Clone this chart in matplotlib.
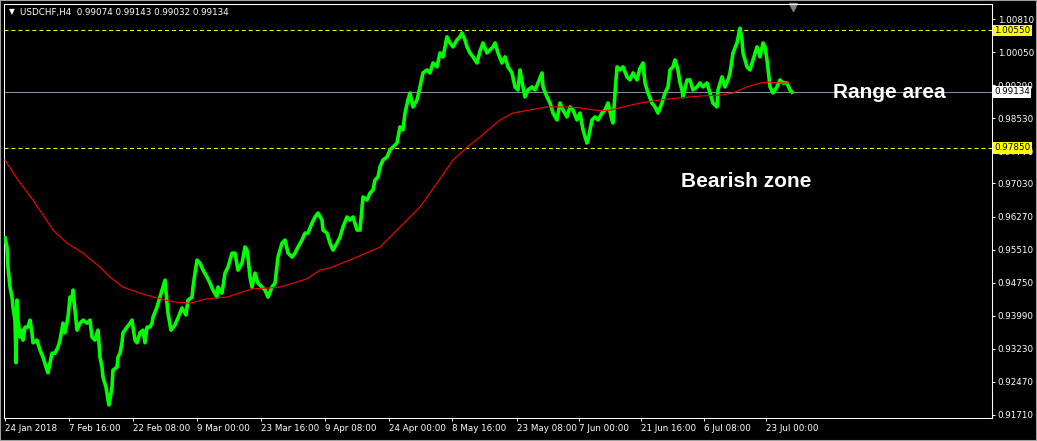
import matplotlib.pyplot as plt
import matplotlib.transforms as mtransforms
from matplotlib.patches import Rectangle

# H4 bar index (0 = 24 Jan 2018) and traced close prices
price_bar = [
    0, 2, 3, 5, 7, 8, 10, 11, 12, 13, 15, 17, 18, 20, 23, 25, 27, 28, 32, 35,
    38, 42, 43, 45, 47, 50, 53, 55, 58, 60, 63, 65, 67, 68, 70, 72, 75, 78, 82, 85,
    87, 90, 92, 93, 95, 97, 98, 101, 103, 104, 107, 108, 112, 113, 115, 117, 118, 122, 125, 127,
    128, 130, 132, 135, 138, 140, 142, 145, 147, 148, 152, 155, 158, 160, 162, 163,
    166, 170, 173, 177, 181, 183, 187, 188, 190, 192, 195, 198, 202, 205, 208, 212, 213, 217, 220, 223,
    227, 230, 233, 237, 240, 242, 243, 245, 247, 250, 253, 257, 260, 263, 267, 270, 273, 277, 280, 283,
    287, 290, 293, 297, 300, 303, 307, 310, 313,
    317, 318, 322, 325, 328, 332, 335, 338, 342, 345, 348, 352, 355, 358, 362, 365, 368, 370, 373, 375,
    378, 382, 385, 388, 392, 395, 398, 400, 403, 405, 408, 412, 415, 418, 422, 425, 428, 432, 435, 438,
    440, 442, 445, 448, 452, 455, 457, 460, 462, 465, 468, 472,
    475, 478, 482, 485, 488, 490, 493, 497, 500, 503, 507, 510, 513, 515, 518, 520, 523, 527, 530, 533,
    537, 538, 542, 545, 548, 552, 555, 558, 562, 565, 568, 572, 575, 578, 582, 583, 587, 590, 593, 597,
    600, 603, 607, 608, 610, 612, 615, 618, 622, 625, 628, 632, 635,
    638, 640, 643, 647, 650, 653, 657, 660, 663, 665, 668, 670, 673, 675, 677, 678, 682, 685, 688, 692,
    695, 698, 702, 705, 708, 712, 713, 717, 720, 723, 725, 728, 732, 735, 737, 738, 742, 745, 748, 752,
    755, 758, 760, 762, 765, 768, 772, 775, 778, 782, 785, 787,
]
price_close = [
    0.9578, 0.9557, 0.9511, 0.9465, 0.9442, 0.9419, 0.9389, 0.9291, 0.9435, 0.9389,
    0.9350, 0.9366, 0.9343, 0.9373, 0.9373, 0.9389, 0.9360, 0.9337, 0.9343, 0.9320,
    0.9304, 0.9274, 0.9268, 0.9290, 0.9313, 0.9313, 0.9327, 0.9343, 0.9382, 0.9360,
    0.9396, 0.9442, 0.9435, 0.9458, 0.9412, 0.9366, 0.9382, 0.9389, 0.9382, 0.9389,
    0.9350, 0.9343, 0.9360, 0.9366, 0.9304, 0.9281, 0.9258, 0.9235, 0.9206, 0.9194,
    0.9235, 0.9274, 0.9281, 0.9304, 0.9313, 0.9337, 0.9360, 0.9373, 0.9382, 0.9389,
    0.9373, 0.9343, 0.9337, 0.9360, 0.9366, 0.9337, 0.9373, 0.9373, 0.9382, 0.9396,
    0.9419, 0.9442, 0.9465, 0.9481, 0.9428, 0.9405,
    0.9366, 0.9378, 0.9394, 0.9417, 0.9401, 0.9435, 0.9442, 0.9465, 0.9497, 0.9527,
    0.9520, 0.9504, 0.9488, 0.9474, 0.9458, 0.9442, 0.9465, 0.9451, 0.9497, 0.9511,
    0.9543, 0.9543, 0.9504, 0.9520, 0.9557, 0.9550, 0.9534, 0.9488, 0.9465, 0.9497,
    0.9474, 0.9465, 0.9458, 0.9442, 0.9465, 0.9474, 0.9534, 0.9566, 0.9573, 0.9543,
    0.9534, 0.9543, 0.9557, 0.9573, 0.9589, 0.9589, 0.9612, 0.9626, 0.9635,
    0.9619, 0.9596, 0.9589, 0.9566, 0.9550, 0.9566, 0.9580, 0.9603, 0.9626, 0.9619,
    0.9626, 0.9596, 0.9596, 0.9672, 0.9665, 0.9681, 0.9688, 0.9711, 0.9718, 0.9741,
    0.9757, 0.9764, 0.9780, 0.9787, 0.9796, 0.9833, 0.9826, 0.9865, 0.9895, 0.9911,
    0.9879, 0.9895, 0.9925, 0.9957, 0.9964, 0.9957, 0.9980, 0.9971, 1.0003, 0.9994,
    1.0017, 1.0040, 1.0026, 1.0017, 1.0033, 1.0040, 1.0049, 1.0033, 1.0017, 1.0003,
    0.9994, 0.9980,
    1.0007, 1.0026, 1.0003, 1.0010, 1.0017, 1.0026, 1.0003, 0.9980, 0.9994, 0.9971,
    0.9957, 0.9925, 0.9918, 0.9964, 0.9925, 0.9902, 0.9918, 0.9925, 0.9918, 0.9934,
    0.9957, 0.9925, 0.9902, 0.9888, 0.9865, 0.9849, 0.9888, 0.9872, 0.9856, 0.9879,
    0.9872, 0.9849, 0.9865, 0.9826, 0.9796, 0.9803, 0.9849, 0.9856, 0.9849, 0.9865,
    0.9872, 0.9888, 0.9849, 0.9842, 0.9911, 0.9971, 0.9964, 0.9971, 0.9948, 0.9941,
    0.9957, 0.9941, 0.9968,
    0.9980, 0.9934, 0.9911, 0.9888, 0.9879, 0.9865, 0.9888, 0.9911, 0.9925, 0.9964,
    0.9971, 0.9987, 0.9964, 0.9934, 0.9918, 0.9902, 0.9941, 0.9941, 0.9918, 0.9925,
    0.9934, 0.9925, 0.9934, 0.9911, 0.9888, 0.9879, 0.9918, 0.9948, 0.9925, 0.9941,
    0.9957, 1.0003, 1.0026, 1.0060, 1.0033, 1.0003, 0.9971, 0.9964, 0.9987, 1.0017,
    0.9994, 1.0026, 1.0017, 0.9987, 0.9925, 0.9911, 0.9925, 0.9941, 0.9934, 0.9934,
    0.9918, 0.9913,
]

# moving average (red)
ma_bar = [0, 13, 28, 48, 62, 78, 95, 105, 118, 135, 152, 168, 185, 202, 222, 238, 248, 265, 275, 288,
          302, 315, 325, 348, 375, 395, 415, 432, 448, 465, 475, 495, 508, 525, 542, 562, 575, 588, 602, 622,
          635, 655, 675, 695, 715, 728, 742, 755, 763, 778, 785]
ma_value = [0.9757, 0.9711, 0.9665, 0.9596, 0.9566, 0.9543, 0.9511, 0.9488, 0.9465, 0.9451,
            0.9440, 0.9431, 0.9428, 0.9438, 0.9442, 0.9454, 0.9461, 0.9463, 0.9465, 0.9474,
            0.9484, 0.9504, 0.9509, 0.9530, 0.9557, 0.9603, 0.9649, 0.9704, 0.9757, 0.9792,
            0.9810, 0.9849, 0.9865, 0.9872, 0.9879, 0.9879, 0.9877, 0.9872, 0.9870, 0.9881,
            0.9888, 0.9895, 0.9900, 0.9904, 0.9906, 0.9911, 0.9925, 0.9934, 0.9936, 0.9934,
            0.9934]

upper_level = 1.00550
lower_level = 0.97850
last_price = 0.99134

y_ticks = [1.00810, 1.00050, 0.99290, 0.98530, 0.97770, 0.97030, 0.96270,
           0.95510, 0.94750, 0.93990, 0.93230, 0.92470, 0.91710]
x_tick_bars = [0, 64, 128, 192, 256, 320, 384, 447, 512, 574, 636, 699, 761]
x_tick_labels = ['24 Jan 2018', '7 Feb 16:00', '22 Feb 08:00', '9 Mar 00:00', '23 Mar 16:00',
                 '9 Apr 08:00', '24 Apr 00:00', '8 May 16:00', '23 May 08:00', '7 Jun 00:00',
                 '21 Jun 16:00', '6 Jul 08:00', '23 Jul 00:00']

W, H = 1037, 441
fig = plt.figure(figsize=(W / 100, H / 100), dpi=100, facecolor='black')
ax = fig.add_axes([4 / W, 23 / H, 988 / W, 414 / H])
ax.set_facecolor('black')

ax.axhline(upper_level, color='#ffff00', lw=0.75, ls=(0, (3.8, 2.9)), zorder=1)
ax.axhline(lower_level, color='#ffff00', lw=0.75, ls=(0, (3.8, 2.9)), zorder=1)
ax.axhline(last_price, color='#8090a8', lw=0.75, zorder=1)

ax.plot(price_bar, price_close, color='#00ff00', lw=2.6, zorder=3)
ax.plot(ma_bar, ma_value, color='#ff0000', lw=0.8, zorder=4)

ax.set_xlim(-1, 987)
ax.set_ylim(0.91641, 1.01155)

for s in ax.spines.values():
    s.set_color('white')
    s.set_linewidth(0.75)

ax.yaxis.tick_right()
ax.set_yticks(y_ticks)
ax.set_yticklabels([f'{v:.5f}' for v in y_ticks])
ax.set_xticks(x_tick_bars)
ax.set_xticklabels(x_tick_labels, ha='left')
ax.tick_params(colors='white', labelcolor='white', labelsize=6.3, length=2.2, width=0.75,
               direction='out')
ax.tick_params(axis='y', pad=2)
ax.tick_params(axis='x', pad=2)

# price labels on the right scale
trans = mtransforms.blended_transform_factory(ax.transAxes, ax.transData)
for v, fc in [(upper_level, '#ffff00'), (lower_level, '#ffff00'), (last_price, 'white')]:
    ax.annotate(f'{v:.5f}', xy=(1, v), xycoords=trans, xytext=(1.6, 0), textcoords='offset points',
                ha='left', va='center', fontsize=6.3, color='black', annotation_clip=False, zorder=10,
                bbox=dict(boxstyle='square,pad=0.15', fc=fc, ec='none'))

ax.text(828, 0.9900, 'Range area', color='white', fontsize=15, fontweight='bold',
        family='Liberation Sans', va='baseline', ha='left', zorder=6)
ax.text(676, 0.9695, 'Bearish zone', color='white', fontsize=15, fontweight='bold',
        family='Liberation Sans', va='baseline', ha='left', zorder=6)

# chart shift marker
tri = mtransforms.blended_transform_factory(ax.transData, ax.transAxes)
ax.plot([788], [1 - 3 / 414], marker='v', color='#808080', ms=6, transform=tri, clip_on=False)

fig.text(9 / W, 1 - 12 / H, '\u25bc', color='white', fontsize=5.5, va='center', ha='left')
fig.text(20 / W, 1 - 12 / H, 'USDCHF,H4  0.99074 0.99143 0.99032 0.99134', color='white',
         fontsize=6.3, va='center', ha='left')

fig.patches.append(Rectangle((0, 0), 1, 1, transform=fig.transFigure, fill=False,
                             ec='#a0a0a0', lw=1.5))

fig.savefig('out.png', dpi=100, facecolor='black')
